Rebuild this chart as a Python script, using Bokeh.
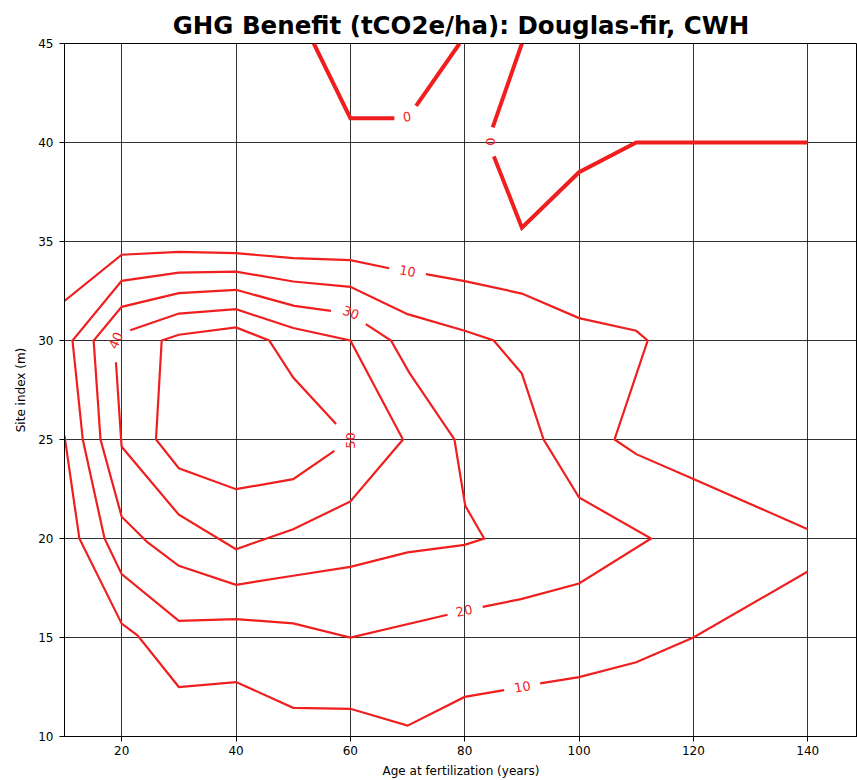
from bokeh.plotting import figure
from bokeh.models import FixedTicker, ColumnDataSource
from bokeh.embed import file_html
from bokeh.resources import INLINE
from bokeh.core.properties import value

# ---------------- data ----------------
title_text = "GHG Benefit (tCO2e/ha): Douglas-fir, CWH"
x_label = "Age at fertilization (years)"
y_label = "Site index (m)"
x_ticks = [20, 40, 60, 80, 100, 120, 140]
y_ticks = [10, 15, 20, 25, 30, 35, 40, 45]

# contour level 0 (thick), split where the inline labels sit
c0_a_x = [53.6, 60.0, 67.7]
c0_a_y = [45.0, 41.23, 41.23]
c0_b_x = [71.5, 79.1]
c0_b_y = [41.85, 45.0]
c0_c_x = [90.0, 84.9]
c0_c_y = [45.0, 40.76]
c0_d_x = [85.1, 90.0, 100.0, 110.0, 140.0]
c0_d_y = [39.3, 35.7, 38.5, 40.0, 40.0]

# contour level 10, upper branch
c10_a_x = [10.0, 20.0, 30.0, 40.0, 50.0, 60.0, 66.8]
c10_a_y = [32.0, 34.33, 34.48, 34.41, 34.16, 34.06, 33.65]
c10_b_x = [73.2, 80.0, 90.0, 100.0, 110.0, 112.0, 106.2, 110.0, 120.0, 140.0]
c10_b_y = [33.35, 33.0, 32.37, 31.13, 30.49, 30.0, 25.0, 24.26, 23.0, 20.47]
# contour level 10, lower branch
c10_c_x = [10.0, 12.6, 20.0, 22.8, 30.0, 40.0, 50.0, 60.0, 70.0, 80.0, 86.9]
c10_c_y = [25.2, 20.0, 15.7, 15.1, 12.5, 12.75, 11.45, 11.4, 10.55, 12.0, 12.34]
c10_d_x = [93.2, 100.0, 110.0, 120.0, 140.0]
c10_d_y = [12.68, 13.0, 13.75, 15.0, 18.33]

# contour level 20
c20_x = [83.15, 89.85, 100.0, 112.6, 100.0, 93.8, 90.0, 85.07, 80.0, 70.0, 60.0, 50.0,
         40.0, 30.0, 20.0, 11.4, 13.2, 17.0, 20.0, 30.0, 40.0, 50.0, 60.0, 77.0]
c20_y = [16.55, 16.94, 17.73, 20.0, 22.07, 25.0, 28.33, 30.0, 30.49, 31.33, 32.71, 32.98,
         33.48, 33.43, 33.01, 30.0, 25.0, 20.0, 18.2, 15.84, 15.93, 15.71, 15.0, 16.15]

# contour level 30
c30_x = [62.7, 67.1, 70.3, 78.2, 80.1, 83.4, 80.0, 70.0, 60.0, 50.0, 40.0, 30.0, 24.55,
         20.0, 16.3, 15.1, 20.0, 30.0, 40.0, 50.2, 56.6]
c30_y = [30.83, 30.0, 28.38, 25.0, 21.65, 20.0, 19.68, 19.3, 18.57, 18.12, 17.66, 18.62, 19.8,
         21.1, 25.0, 30.0, 31.7, 32.39, 32.56, 31.75, 31.5]

# contour level 40
c40_x = [21.5, 30.0, 40.0, 50.0, 60.0, 69.2, 60.0, 50.0, 40.0, 30.0, 20.0, 19.9, 19.0]
c40_y = [30.52, 31.36, 31.58, 30.63, 30.0, 25.0, 21.87, 20.47, 19.46, 21.2, 24.63, 25.0, 28.9]

# contour level 50
c50_x = [57.2, 50.0, 40.0, 30.0, 26.0, 27.0, 30.0, 40.0, 45.8, 50.0, 57.5]
c50_y = [24.43, 23.0, 22.49, 23.55, 25.0, 30.0, 30.29, 30.66, 30.0, 28.13, 25.78]

# inline contour labels
lab_text = ["0", "0", "10", "10", "20", "30", "40", "50"]
lab_x = [69.9, 84.5, 70.0, 90.1, 79.9, 60.1, 19.0, 60.1]
lab_y = [41.3, 40.04, 33.5, 12.5, 16.35, 31.4, 30.0, 24.95]
lab_angle = [10, 90, -9, 10, 13, -21, 66, 90]

# ---------------- figure ----------------
RED = "#f01f1f"

p = figure(width=857, height=780, x_range=(10, 148.7), y_range=(10, 45),
           output_backend="svg", toolbar_location=None, title=title_text,
           min_border_left=64, min_border_right=0, min_border_top=43, min_border_bottom=44)

p.background_fill_color = "white"
p.border_fill_color = "white"
p.outline_line_color = "black"
p.outline_line_width = 1

p.title.text_font = "DejaVu Sans"
p.title.text_font_size = "24.5px"
p.title.text_font_style = "bold"
p.title.text_color = "black"
p.title.align = "center"
p.title.standoff = 7

for ax in (p.xaxis, p.yaxis):
    ax.axis_line_color = "black"
    ax.major_tick_line_color = "black"
    ax.minor_tick_line_color = None
    ax.major_tick_out = 5
    ax.major_tick_in = 0
    ax.major_label_text_font = "DejaVu Sans"
    ax.major_label_text_font_size = "12px"
    ax.major_label_text_color = "black"
    ax.axis_label_text_font = "DejaVu Sans"
    ax.axis_label_text_font_size = "12px"
    ax.axis_label_text_font_style = "normal"
    ax.axis_label_text_color = "black"

p.xaxis.ticker = FixedTicker(ticks=x_ticks)
p.yaxis.ticker = FixedTicker(ticks=y_ticks)
p.xaxis.axis_label = x_label
p.yaxis.axis_label = y_label
p.xaxis.major_label_standoff = 4
p.xaxis.axis_label_standoff = 6
p.yaxis.major_label_standoff = 6
p.yaxis.axis_label_standoff = 7

p.xgrid.ticker = FixedTicker(ticks=x_ticks)
p.ygrid.ticker = FixedTicker(ticks=y_ticks)
for g in (p.xgrid, p.ygrid):
    g.grid_line_color = "black"
    g.grid_line_alpha = 0.8
    g.grid_line_width = 1

thin = ColumnDataSource(dict(
    xs=[c10_a_x, c10_b_x, c10_c_x, c10_d_x, c20_x, c30_x, c40_x, c50_x],
    ys=[c10_a_y, c10_b_y, c10_c_y, c10_d_y, c20_y, c30_y, c40_y, c50_y],
))
thick = ColumnDataSource(dict(
    xs=[c0_a_x, c0_b_x, c0_c_x, c0_d_x],
    ys=[c0_a_y, c0_b_y, c0_c_y, c0_d_y],
))
p.multi_line(xs="xs", ys="ys", source=thin, line_color=RED, line_width=2.2,
             line_join="miter")
p.multi_line(xs="xs", ys="ys", source=thick, line_color=RED, line_width=4,
             line_join="miter")

labels = ColumnDataSource(dict(x=lab_x, y=lab_y, text=lab_text, angle=lab_angle))
p.text(x="x", y="y", text="text", angle="angle", angle_units="deg", source=labels,
       text_font=value("DejaVu Sans"), text_font_size=value("13px"), text_color=RED,
       text_align="center", text_baseline="middle")

open("out.html", "w").write(file_html(p, INLINE))
